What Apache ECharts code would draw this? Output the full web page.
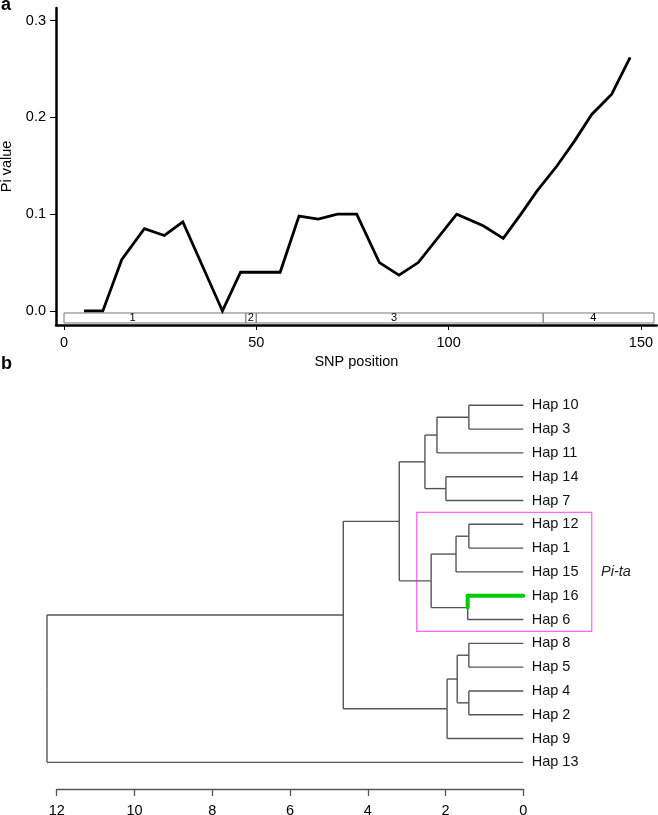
<!DOCTYPE html>
<html><head><meta charset="utf-8">
<script src="https://cdn.jsdelivr.net/npm/echarts@6/dist/echarts.min.js"></script>
<style>html,body{margin:0;padding:0;background:#fff}#c{width:658px;height:815px}</style>
</head><body><div id="c"></div>
<script>
// ---- Panel a data ----
const snpPos = [5.2,10.1,15.0,20.9,26.1,30.9,41.2,45.9,56.2,61.1,66.1,71.1,76.1,82.0,87.1,92.1,102.1,109.0,114.2,118.8,123.0,128.2,132.8,137.2,142.4,147.2];
const piVals = [0,0,0.053,0.085,0.078,0.092,0,0.040,0.040,0.098,0.095,0.100,0.100,0.050,0.037,0.050,0.100,0.088,0.075,0.100,0.124,0.150,0.176,0.203,0.224,0.262];
const yTicksA = [0, 0.1, 0.2, 0.3];
const xTicksA = [0, 50, 100, 150];
const geneStart = [0, 47.3, 50, 124.6];
const geneEnd = [47.3, 50, 124.6, 153.4];
const geneLabels = ['1', '2', '3', '4'];
const geneLabelPos = [17.8, 48.6, 85.8, 137.6];

// ---- Panel b data ----
const leaves = ['Hap 10','Hap 3','Hap 11','Hap 14','Hap 7','Hap 12','Hap 1','Hap 15','Hap 16','Hap 6','Hap 8','Hap 5','Hap 4','Hap 2','Hap 9','Hap 13'];
const merges = [
  ['Hap 10','Hap 3',1.40],
  ['m0','Hap 11',2.22],
  ['Hap 14','Hap 7',1.99],
  ['m1','m2',2.53],
  ['Hap 12','Hap 1',1.40],
  ['m4','Hap 15',1.73],
  ['Hap 16','Hap 6',1.43],
  ['m5','m6',2.37],
  ['m3','m7',3.19],
  ['Hap 8','Hap 5',1.40],
  ['Hap 4','Hap 2',1.40],
  ['m9','m10',1.70],
  ['m11','Hap 9',1.96],
  ['m8','m12',4.63],
  ['m13','Hap 13',12.25]
];
const highlightLeaf = 'Hap 16';
const cladeFirst = 'Hap 12';
const cladeLast = 'Hap 6';
const cladeName = 'Pi-ta';
const xTicksB = [0, 2, 4, 6, 8, 10, 12];

const FONT = "'Liberation Sans', Arial, Helvetica, sans-serif";

// build dendrogram segments
const pos = {};
leaves.forEach((n, i) => pos[n] = {y: i, h: 0, leaf: n});
const segs = [];
merges.forEach((m, k) => {
  const a = pos[m[0]], b = pos[m[1]], h = m[2];
  const ym = (a.y + b.y) / 2;
  const ga = a.leaf === highlightLeaf ? 1 : 0;
  const gb = b.leaf === highlightLeaf ? 1 : 0;
  segs.push([h, a.y, h, ym, ga]);
  segs.push([h, ym, h, b.y, gb]);
  segs.push([a.h, a.y, h, a.y, ga]);
  segs.push([b.h, b.y, h, b.y, gb]);
  pos['m' + k] = {y: ym, h: h, leaf: null};
});
segs.sort((p, q) => p[4] - q[4]);

const lineData = snpPos.map((x, i) => [x, piVals[i]]);
const geneData = geneStart.map((s, i) => [s, geneEnd[i]]);
const geneLabelData = geneLabelPos.map((x, i) => [x, geneLabels[i]]);
const leafData = leaves.map((n, i) => [0, i, n]);
const i0 = leaves.indexOf(cladeFirst), i1 = leaves.indexOf(cladeLast);

const chart = echarts.init(document.getElementById('c'), null, {renderer: 'canvas'});
chart.setOption({
  animation: false,
  backgroundColor: '#fff',
  textStyle: {fontFamily: FONT},
  graphic: [
    {type: 'text', left: 1, top: -4, style: {text: 'a', font: 'bold 18px ' + FONT, fill: '#000'}},
    {type: 'text', left: 1, top: 355, style: {text: 'b', font: 'bold 18px ' + FONT, fill: '#000'}}
  ],
  grid: [
    {left: 56, top: 8, width: 600.7, height: 317, containLabel: false, outerBoundsMode: 'none'},
    {left: 56.7, top: 405.3, width: 466.6, height: 383.7, containLabel: false, outerBoundsMode: 'none'}
  ],
  xAxis: [
    {gridIndex: 0, type: 'value', min: -2.08, max: 154.1,
     name: 'SNP position', nameLocation: 'middle', nameGap: 29,
     nameTextStyle: {fontSize: 14.5, color: '#000', fontFamily: FONT},
     axisLine: {onZero: false, lineStyle: {color: '#000', width: 2.5}},
     axisTick: {show: true, length: 5, customValues: xTicksA, lineStyle: {color: '#000', width: 1}},
     axisLabel: {customValues: xTicksA, fontSize: 14.5, color: '#000', margin: 10, fontFamily: FONT},
     splitLine: {show: false}},
    {gridIndex: 1, type: 'value', min: 0, max: 12, interval: 2, inverse: true, position: 'bottom',
     axisLine: {onZero: false, lineStyle: {color: '#555', width: 1.3}},
     axisTick: {show: true, length: 7, customValues: xTicksB, lineStyle: {color: '#555', width: 1.3}},
     axisLabel: {customValues: xTicksB, fontSize: 14.5, color: '#000', margin: 14, fontFamily: FONT},
     splitLine: {show: false}}
  ],
  yAxis: [
    {gridIndex: 0, type: 'value', min: -0.0145, max: 0.313,
     name: 'Pi value', nameLocation: 'middle', nameGap: 37, nameRotate: 90,
     nameTextStyle: {fontSize: 14.5, color: '#000', fontFamily: FONT},
     axisLine: {show: true, onZero: false, lineStyle: {color: '#000', width: 2.5}},
     axisTick: {show: true, length: 6, customValues: yTicksA, lineStyle: {color: '#000', width: 1}},
     axisLabel: {customValues: yTicksA, fontSize: 14.5, color: '#000', margin: 10, fontFamily: FONT,
                 formatter: v => Number(v).toFixed(1)},
     splitLine: {show: false}},
    {gridIndex: 1, type: 'value', min: 0, max: 16.12, inverse: true, show: false}
  ],
  series: [
    {type: 'custom', xAxisIndex: 0, yAxisIndex: 0, data: geneData, z: 2, encode: {x: [0, 1]},
     renderItem: function (params, api) {
       const p1 = api.coord([api.value(0), -0.0021]);
       const p2 = api.coord([api.value(1), -0.0124]);
       return {type: 'rect', shape: {x: p1[0], y: p1[1], width: p2[0] - p1[0], height: p2[1] - p1[1]},
               style: {fill: '#fff', stroke: '#777', lineWidth: 1}};
     }},
    {type: 'custom', xAxisIndex: 0, yAxisIndex: 0, data: geneLabelData, z: 3, encode: {x: 0},
     renderItem: function (params, api) {
       const p = api.coord([api.value(0), -0.0073]);
       return {type: 'text', x: p[0], y: p[1],
               style: {text: geneLabelData[params.dataIndex][1], font: '11px ' + FONT, fill: '#000',
                       align: 'center', verticalAlign: 'middle'}};
     }},
    {type: 'line', xAxisIndex: 0, yAxisIndex: 0, data: lineData, symbol: 'none', z: 5,
     lineStyle: {color: '#000', width: 2.8, join: 'miter'}},
    {type: 'custom', xAxisIndex: 1, yAxisIndex: 1, data: segs, encode: {x: [0, 2], y: [1, 3]}, clip: false, z: 3,
     renderItem: function (params, api) {
       const p1 = api.coord([api.value(0), api.value(1)]);
       const p2 = api.coord([api.value(2), api.value(3)]);
       const g = api.value(4);
       return {type: 'line', shape: {x1: p1[0], y1: p1[1], x2: p2[0], y2: p2[1]},
               style: {stroke: g ? '#00cc00' : '#555', lineWidth: g ? 4 : 1.4, lineCap: g ? 'round' : 'butt'}};
     }},
    {type: 'custom', xAxisIndex: 1, yAxisIndex: 1, data: leafData, encode: {x: 0, y: 1}, clip: false, z: 4,
     renderItem: function (params, api) {
       const p = api.coord([api.value(0), api.value(1)]);
       return {type: 'text', x: p[0] + 8.4, y: p[1],
               style: {text: leaves[params.dataIndex], font: '14.5px ' + FONT, fill: '#111',
                       align: 'left', verticalAlign: 'middle'}};
     }},
    {type: 'custom', xAxisIndex: 1, yAxisIndex: 1, data: [[i0, i1]], clip: false, z: 2,
     renderItem: function (params, api) {
       const a = api.value(0), b = api.value(1);
       const p1 = api.coord([2.74, a - 0.5]);
       const p2 = api.coord([-1.76, b + 0.5]);
       const pt = api.coord([-2.0, (a + b) / 2]);
       return {type: 'group', children: [
         {type: 'rect', shape: {x: p1[0], y: p1[1], width: p2[0] - p1[0], height: p2[1] - p1[1]},
          style: {fill: 'none', stroke: '#ff66ff', lineWidth: 1.3}},
         {type: 'text', x: pt[0], y: pt[1],
          style: {text: cladeName, font: 'italic 14.5px ' + FONT, fill: '#222', align: 'left', verticalAlign: 'middle'}}
       ]};
     }}
  ]
});
</script></body></html>
